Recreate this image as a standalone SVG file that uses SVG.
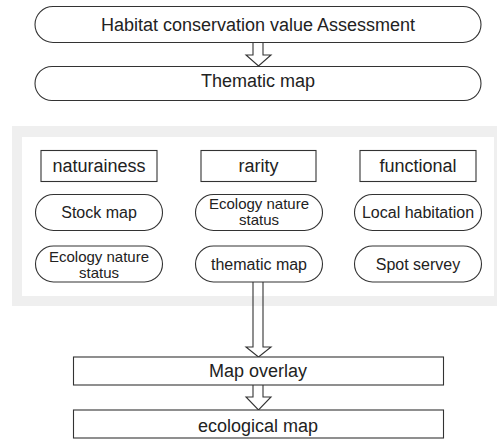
<svg xmlns="http://www.w3.org/2000/svg" width="497" height="440" viewBox="0 0 497 440">
<style>
.b{fill:#fff;stroke:#333;stroke-width:1.1}
.a{fill:none;stroke:#333;stroke-width:1.1}
text{font-family:"Liberation Sans",Arial,sans-serif;fill:#222;text-anchor:middle}
.l{font-size:18px}
.s{font-size:16px}
.t{font-size:15px}
</style>
<rect width="497" height="440" fill="#fff"/>
<g id="panel">
<rect x="12" y="126" width="495" height="180" fill="#efefef"/>
<rect x="22" y="137" width="472" height="159" fill="#fff"/>
</g>
<g id="connectors">
<polyline class="a" points="253,42.5 253,55 246,55 258.5,66 271,55 263,55 263,42.5"/>
<polyline class="a" points="253,282 253,347 246,347 258.5,357 271,347 263,347 263,282"/>
<polyline class="a" points="253,385 253,397 246,397 258.5,410 271,397 263,397 263,385"/>
</g>
<g id="n-assessment">
<rect class="b" x="35" y="6.5" width="446" height="36" rx="18"/>
<text class="l" x="258" y="31">Habitat conservation value Assessment</text>
</g>
<g id="n-thematic">
<rect class="b" x="35" y="66.5" width="446" height="34" rx="17"/>
<text class="l" x="258" y="87">Thematic map</text>
</g>
<g id="n-naturainess">
<rect class="b" x="41" y="150.5" width="116" height="31"/>
<text class="l" x="99" y="172">naturainess</text>
</g>
<g id="n-rarity">
<rect class="b" x="201" y="150.5" width="115" height="31"/>
<text class="l" x="258.5" y="172">rarity</text>
</g>
<g id="n-functional">
<rect class="b" x="360" y="150.5" width="116" height="31"/>
<text class="l" x="418" y="172">functional</text>
</g>
<g id="n-stock">
<rect class="b" x="35.5" y="194.5" width="127" height="36" rx="18"/>
<text class="s" x="99" y="218">Stock map</text>
</g>
<g id="n-eco1">
<rect class="b" x="195.5" y="194.5" width="127" height="36" rx="18"/>
<text class="t" x="259" y="209">Ecology nature</text>
<text class="t" x="259" y="225">status</text>
</g>
<g id="n-local">
<rect class="b" x="354.5" y="194.5" width="127" height="36" rx="18"/>
<text class="s" x="418" y="218">Local habitation</text>
</g>
<g id="n-eco2">
<rect class="b" x="35.5" y="246" width="127" height="36" rx="18"/>
<text class="t" x="99" y="261.5">Ecology nature</text>
<text class="t" x="99" y="277.5">status</text>
</g>
<g id="n-thematic2">
<rect class="b" x="195.5" y="246" width="127" height="36" rx="18"/>
<text class="s" x="259" y="270">thematic map</text>
</g>
<g id="n-spot">
<rect class="b" x="354.5" y="246" width="127" height="36" rx="18"/>
<text class="s" x="418" y="270">Spot servey</text>
</g>
<g id="n-overlay">
<rect class="b" x="73.5" y="357" width="370" height="28"/>
<text class="l" x="258" y="377">Map overlay</text>
</g>
<g id="n-ecomap">
<rect class="b" x="73.5" y="410" width="370" height="28"/>
<text class="l" x="258" y="432">ecological map</text>
</g>
</svg>
